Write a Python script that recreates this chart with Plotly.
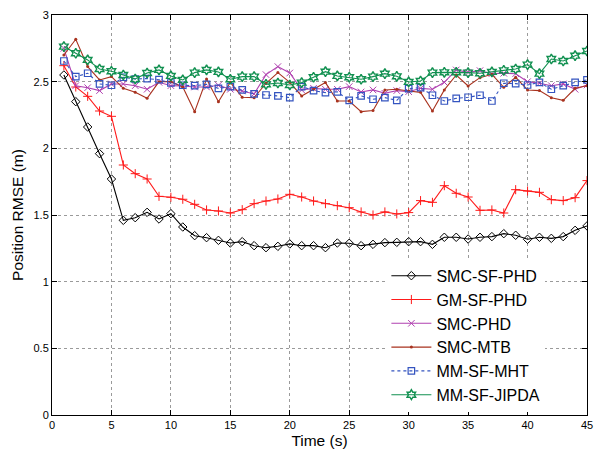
import plotly.graph_objects as go

t = list(range(1, 46))

smc_sf_phd = [2.55, 2.35, 2.16, 1.96, 1.77, 1.46, 1.48, 1.52, 1.47, 1.51,
              1.41, 1.345, 1.33, 1.31, 1.29, 1.30, 1.27, 1.255, 1.265, 1.283,
              1.27, 1.27, 1.255, 1.29, 1.288, 1.27, 1.28, 1.293, 1.295, 1.30,
              1.30, 1.28, 1.333, 1.333, 1.32, 1.333, 1.338, 1.36, 1.348, 1.318,
              1.333, 1.325, 1.338, 1.385, 1.418]

gm_sf_phd = [2.62, 2.46, 2.39, 2.28, 2.24, 1.875, 1.81, 1.77, 1.64, 1.633,
             1.618, 1.58, 1.538, 1.53, 1.515, 1.54, 1.585, 1.605, 1.62, 1.655,
             1.635, 1.605, 1.585, 1.57, 1.555, 1.523, 1.50, 1.523, 1.508, 1.518,
             1.608, 1.595, 1.72, 1.663, 1.635, 1.535, 1.538, 1.515, 1.69, 1.68,
             1.67, 1.615, 1.608, 1.63, 1.758]

smc_phd = [2.75, 2.47, 2.455, 2.433, 2.483, 2.483, 2.47, 2.443, 2.495, 2.47,
           2.468, 2.46, 2.46, 2.473, 2.443, 2.43, 2.408, 2.553, 2.613, 2.565,
           2.438, 2.45, 2.443, 2.443, 2.463, 2.423, 2.438, 2.413, 2.433, 2.425,
           2.45, 2.443, 2.495, 2.588, 2.57, 2.583, 2.56, 2.563, 2.56, 2.50,
           2.488, 2.47, 2.483, 2.443, 2.475]

smc_mtb = [2.70, 2.818, 2.613, 2.513, 2.538, 2.45, 2.42, 2.375, 2.50, 2.50,
           2.46, 2.275, 2.52, 2.35, 2.495, 2.383, 2.38, 2.488, 2.568, 2.495,
           2.393, 2.443, 2.493, 2.355, 2.355, 2.275, 2.283, 2.438, 2.443, 2.43,
           2.42, 2.28, 2.438, 2.55, 2.468, 2.53, 2.555, 2.458, 2.533, 2.438,
           2.433, 2.38, 2.36, 2.45, 2.47]

mm_sf_mht = [2.655, 2.538, 2.563, 2.483, 2.473, 2.533, 2.52, 2.523, 2.515, 2.49,
             2.473, 2.47, 2.48, 2.45, 2.463, 2.438, 2.408, 2.40, 2.393, 2.38,
             2.463, 2.433, 2.418, 2.423, 2.36, 2.393, 2.368, 2.38, 2.36, 2.448,
             2.455, 2.398, 2.355, 2.375, 2.383, 2.398, 2.355, 2.488, 2.485, 2.475,
             2.495, 2.443, 2.47, 2.495, 2.513]

mm_sf_jipda = [2.763, 2.713, 2.663, 2.595, 2.578, 2.55, 2.52, 2.565, 2.588, 2.543,
               2.513, 2.568, 2.588, 2.573, 2.518, 2.538, 2.538, 2.48, 2.49, 2.475,
               2.493, 2.533, 2.575, 2.543, 2.533, 2.518, 2.538, 2.56, 2.54, 2.498,
               2.505, 2.568, 2.57, 2.57, 2.568, 2.563, 2.573, 2.585, 2.595, 2.628,
               2.56, 2.67, 2.655, 2.695, 2.73]

x_ticks = [0, 5, 10, 15, 20, 25, 30, 35, 40, 45]
y_ticks = [0, 0.5, 1, 1.5, 2, 2.5, 3]
y_tick_labels = ["0", "0.5", "1", "1.5", "2", "2.5", "3"]

series = [
    ("SMC-SF-PHD", smc_sf_phd, "#000000", "solid",
     dict(symbol="diamond-open", size=6.5, line=dict(width=1))),
    ("GM-SF-PHD", gm_sf_phd, "#ff1a1a", "solid",
     dict(symbol="cross-thin-open", size=6.5, line=dict(width=1, color="#ff1a1a"))),
    ("SMC-PHD", smc_phd, "#b040b0", "solid",
     dict(symbol="x-thin-open", size=6.5, line=dict(width=1, color="#b040b0"))),
    ("SMC-MTB", smc_mtb, "#a8321e", "solid",
     dict(symbol="circle", size=3)),
    ("MM-SF-MHT", mm_sf_mht, "#3454c0", "dot",
     dict(symbol="square-open", size=6.5, line=dict(width=1.2))),
    ("MM-SF-JIPDA", mm_sf_jipda, "#119050", "solid",
     dict(symbol="hexagram-open", size=7.5, line=dict(width=1.4))),
]

fig = go.Figure()
for name, vals, color, dash, marker in series:
    marker = dict(marker)
    marker["color"] = color
    fig.add_trace(go.Scatter(
        x=t, y=vals, name=name, mode="lines+markers",
        line=dict(color=color, width=1.1, dash=dash),
        marker=marker,
    ))

axis_common = dict(
    showline=True, linecolor="black", linewidth=1, mirror="ticks",
    ticks="inside", ticklen=5, tickcolor="black",
    showgrid=True, gridcolor="#9a9a9a", griddash="dot", gridwidth=1,
    zeroline=False, automargin=False,
    tickfont=dict(family="Liberation Sans, Arial", size=11, color="black"),
)

fig.update_layout(
    width=594, height=453,
    margin=dict(l=52, r=7, t=15, b=38),
    paper_bgcolor="white", plot_bgcolor="white",
    font=dict(family="Liberation Sans, Arial", color="black"),
    xaxis=dict(range=[0, 45], tickvals=x_ticks,
               title=dict(text="Time (s)", font=dict(size=15.5), standoff=4),
               **axis_common),
    yaxis=dict(range=[0, 3], tickvals=y_ticks, ticktext=y_tick_labels,
               title=dict(text="Position RMSE (m)", font=dict(size=15.5), standoff=6),
               **axis_common),
    legend=dict(x=0.625, y=0.008, xanchor="left", yanchor="bottom",
                bgcolor="white", borderwidth=0,
                font=dict(size=16, family="Liberation Sans, Arial"),
                tracegroupgap=0, itemwidth=40),
    showlegend=True,
)

fig.write_html("out.html")
